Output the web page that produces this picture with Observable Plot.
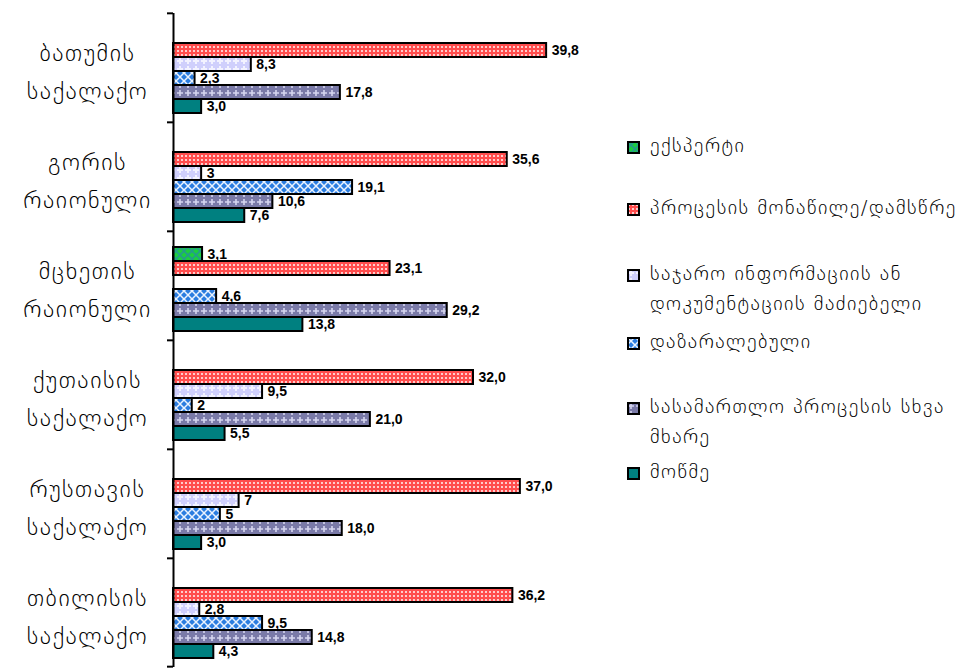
<!DOCTYPE html>
<html><head><meta charset="utf-8">
<script src="https://cdn.jsdelivr.net/npm/d3@7"></script>
<script src="https://cdn.jsdelivr.net/npm/@observablehq/plot@0.6"></script>
<style>
html,body{margin:0;padding:0;background:#fff;overflow:hidden;}
#wrap{position:relative;width:962px;height:671px;}
#legend{position:absolute;left:0;top:0;width:962px;height:671px;pointer-events:none;font-family:"DejaVu Sans",sans-serif;font-weight:200;font-size:20px;letter-spacing:1.5px;color:#000;}
.sq{position:absolute;width:13px;height:13px;}
.lt{position:absolute;white-space:nowrap;line-height:1;}
g[font-size="24"]{letter-spacing:1.6px;}
</style></head><body>
<svg width="0" height="0" style="position:absolute">
 <defs>
  <pattern id="pGreen" width="8" height="8" patternUnits="userSpaceOnUse">
   <rect width="8" height="8" fill="#1ccf3c"/>
   <path d="M0,0L8,8M8,0L0,8" stroke="#239c8c" stroke-width="1.6"/>
  </pattern>
  <pattern id="pRed" width="4" height="4" patternUnits="userSpaceOnUse">
   <rect width="4" height="4" fill="#ff4d4d"/>
   <rect x="1" y="1" width="2" height="2" fill="#ffcccc"/>
  </pattern>
  <pattern id="pLav" width="8" height="8" patternUnits="userSpaceOnUse">
   <rect width="8" height="8" fill="#cfcffc"/>
   <path d="M4,1V7M1,4H7" stroke="#f2f2ff" stroke-width="2"/>
  </pattern>
  <pattern id="pBlue" width="8" height="8" patternUnits="userSpaceOnUse">
   <rect width="8" height="8" fill="#2b7de0"/>
   <path d="M0,0L8,8M8,0L0,8" stroke="#eaf3ff" stroke-width="1.5"/>
  </pattern>
  <pattern id="pPurple" width="8" height="8" patternUnits="userSpaceOnUse">
   <rect width="8" height="8" fill="#7a7aa8"/>
   <path d="M4,1V7M1,4H7" stroke="#d6d6f0" stroke-width="1.6"/>
  </pattern>
 </defs>
</svg>
<div id="wrap"><div id="chart"></div><div id="legend"></div></div>
<script>
// ---- data ----
const groups = ["ბათუმის\nსაქალაქო", "გორის\nრაიონული", "მცხეთის\nრაიონული", "ქუთაისის\nსაქალაქო", "რუსთავის\nსაქალაქო", "თბილისის\nსაქალაქო"];
const series = ["ექსპერტი", "პროცესის მონაწილე/დამსწრე", "საჯარო ინფორმაციის ან დოკუმენტაციის მაძიებელი", "დაზარალებული", "სასამართლო პროცესის სხვა მხარე", "მოწმე"];
const legendLines = [["ექსპერტი"], ["პროცესის მონაწილე/დამსწრე"], ["საჯარო ინფორმაციის ან", "დოკუმენტაციის მაძიებელი"], ["დაზარალებული"], ["სასამართლო პროცესის სხვა", "მხარე"], ["მოწმე"]];
const expert      = [null, null, "3,1", null, null, null];
const participant = ["39,8", "35,6", "23,1", "32,0", "37,0", "36,2"];
const publicInfo  = ["8,3", "3", null, "9,5", "7", "2,8"];
const victim      = ["2,3", "19,1", "4,6", "2", "5", "9,5"];
const otherParty  = ["17,8", "10,6", "29,2", "21,0", "18,0", "14,8"];
const witness     = ["3,0", "7,6", "13,8", "5,5", "3,0", "4,3"];
const seriesValues = [expert, participant, publicInfo, victim, otherParty, witness];
const fills = ["url(#pGreen)", "url(#pRed)", "url(#pLav)", "url(#pBlue)", "url(#pPurple)", "#008080"];

const rows = [];
groups.forEach((g, gi) => seriesValues.forEach((arr, si) => {
  const v = arr[gi];
  if (v != null) rows.push({group: g, series: series[si], value: +v.replace(",", "."), label: v});
}));

// ---- layout ----
const H = 671, MT = 12, MB = 3;
const half = (H - MT - MB) / groups.length / 2;

const chart = Plot.plot({
  width: 962, height: H,
  marginLeft: 173, marginRight: 414, marginTop: MT, marginBottom: MB,
  x: {domain: [0, 40], axis: null},
  y: {domain: series, axis: null, paddingInner: 0, paddingOuter: 0.72, align: 0.62},
  fy: {domain: groups, padding: 0, axis: null},
  color: {domain: series, range: fills},
  marks: [
    Plot.barX(rows, {x: "value", y: "series", fy: "group", fill: "series", stroke: "black", strokeWidth: 2}),
    Plot.text(rows, {x: "value", y: "series", fy: "group", text: "label", dx: 5, dy: 0.5, textAnchor: "start",
      fontWeight: "bold", fontSize: 14, fontFamily: "Liberation Sans, Arial, sans-serif", fill: "black"}),
    Plot.ruleX([0], {stroke: "black", strokeWidth: 2}),
    Plot.ruleY(groups, {fy: d => d, y: null, x1: 0, x2: 0, insetLeft: -6, dy: -half, stroke: "black", strokeWidth: 2}),
    Plot.ruleY(groups.slice(-1), {fy: d => d, y: null, x1: 0, x2: 0, insetLeft: -6, dy: half - 1, stroke: "black", strokeWidth: 2}),
    Plot.text(groups, {fy: d => d, text: d => d, frameAnchor: "left", dx: -86, textAnchor: "middle",
      fontSize: 24, fontWeight: 200, lineHeight: 1.55, fontFamily: "DejaVu Sans, sans-serif", fill: "black"})
  ]
});
document.getElementById("chart").appendChild(chart);

// ---- legend (HTML, to the right of the plot) ----
const legendTop = [147, 209, 275, 343, 408, 473];
const lineGap = 30;
const legend = d3.select("#legend");
legendLines.forEach((lines, i) => {
  const sq = legend.append("svg").attr("class", "sq")
    .style("left", "627px").style("top", (legendTop[i] - 6.5) + "px")
    .attr("width", 13).attr("height", 13);
  sq.append("rect").attr("x", 1).attr("y", 1).attr("width", 11).attr("height", 11)
    .attr("fill", fills[i]).attr("stroke", "black").attr("stroke-width", 2);
  lines.forEach((t, j) => {
    legend.append("div").attr("class", "lt")
      .style("left", "650px").style("top", (legendTop[i] + j * lineGap - 12) + "px")
      .text(t);
  });
});
</script>
</body></html>
